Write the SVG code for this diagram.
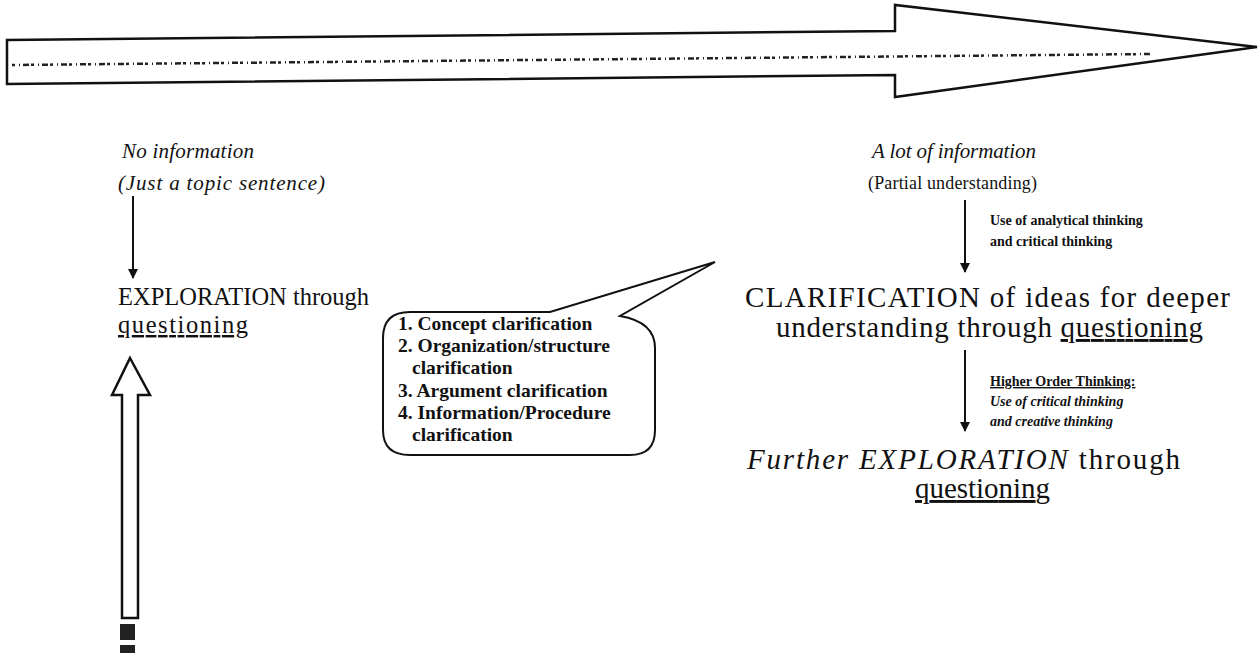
<svg xmlns="http://www.w3.org/2000/svg" width="1260" height="663" viewBox="0 0 1260 663">
<style>
text{font-family:"Liberation Serif","Times New Roman",serif;fill:#111}
.it{font-style:italic;font-size:21px}
.sub{font-size:18px}
.big{font-size:24.5px}
.big2{font-size:29px}
.small{font-size:14px;font-weight:bold}
.bub{font-size:19.5px;font-weight:bold}
.u{text-decoration:underline}
.line{stroke:#111;stroke-width:2;fill:none}
.outline{stroke:#111;stroke-width:2.5;fill:#fff;stroke-linejoin:miter}
</style>
<defs>
<marker id="ah" viewBox="0 0 10 10" refX="9" refY="5" markerWidth="5" markerHeight="5" orient="auto">
<path d="M0,0 L10,5 L0,10 z" fill="#111"/>
</marker>
</defs>

<g id="timeline-arrow">
<path class="outline" d="M7,40 L895,31 L895,5 L1257,47 L895,97 L895,75 L7,84 Z"/>
<path d="M12,65 L1150,54" stroke="#222" stroke-width="2.5" stroke-dasharray="3 4 1 3 6 2" fill="none"/>
</g>

<g id="no-information">
<text class="it" x="122" y="158" textLength="132">No information</text>
<text class="it" x="118" y="190" textLength="207">(Just a topic sentence)</text>
</g>

<g id="exploration">
<text class="big" x="118" y="305">EXPLORATION through</text>
<text class="big u" x="118" y="333" textLength="130">questioning</text>
</g>

<g id="up-arrow">
<path class="outline" stroke-width="2" d="M130,358 L150,395 L138,395 L138,618 L122,618 L122,395 L112,395 Z"/>
<rect x="120" y="624" width="15" height="16" fill="#222"/>
<rect x="120" y="645" width="15" height="8" fill="#222"/>
</g>

<g id="lot-information">
<text class="it" x="872" y="158" textLength="164">A lot of information</text>
<text class="sub" x="868" y="189" textLength="169">(Partial understanding)</text>
</g>

<g id="analytical-label">
<text class="small" x="990" y="225">Use of analytical thinking</text>
<text class="small" x="990" y="246">and critical thinking</text>
</g>

<g id="clarification">
<text class="big2" x="745" y="307" textLength="485">CLARIFICATION of ideas for deeper</text>
<text class="big2" x="776" y="337" textLength="427">understanding through <tspan class="u">questioning</tspan></text>
</g>

<g id="higher-order-label">
<text class="small u" x="990" y="386">Higher Order Thinking:</text>
<text class="small" font-style="italic" x="990" y="406">Use of critical thinking</text>
<text class="small" font-style="italic" x="990" y="426">and creative thinking</text>
</g>

<g id="further-exploration">
<text class="big2" x="747" y="469" textLength="433"><tspan font-style="italic">Further EXPLORATION</tspan> through</text>
<text class="big2 u" x="915" y="498" textLength="135">questioning</text>
</g>

<g id="callout">
<path class="line" d="M410,312 L550,312 L715,262 L620,316 Q655,322 655,348 L655,430 Q655,455 630,455 L410,455 Q383,455 383,430 L383,338 Q383,312 410,312 Z" fill="#fff"/>
<text class="bub" x="398" y="330">1. Concept clarification</text>
<text class="bub" x="398" y="352">2. Organization/structure</text>
<text class="bub" x="412" y="374">clarification</text>
<text class="bub" x="398" y="397">3. Argument clarification</text>
<text class="bub" x="398" y="419">4. Information/Procedure</text>
<text class="bub" x="412" y="441">clarification</text>
</g>

<g id="connectors">
<line class="line" x1="133" y1="196" x2="133" y2="278" marker-end="url(#ah)"/>
<line class="line" x1="965" y1="200" x2="965" y2="272" marker-end="url(#ah)"/>
<line class="line" x1="965" y1="350" x2="965" y2="431" marker-end="url(#ah)"/>
</g>
</svg>
